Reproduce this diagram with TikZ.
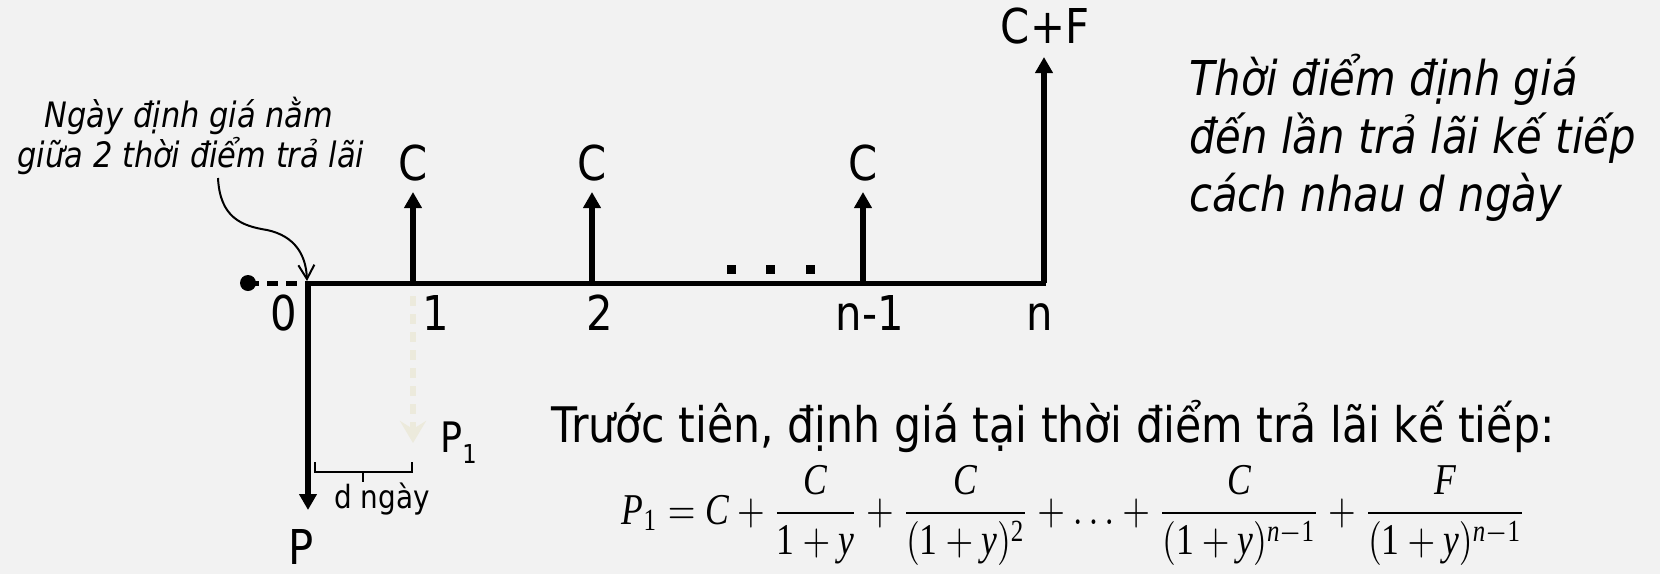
\documentclass[tikz,border=0pt]{standalone}
\usepackage[no-math]{fontspec}
\usepackage{amsmath}
\usepackage{graphicx}
\setmainfont{DejaVu Sans}[FakeStretch=0.87]
\newfontfamily\tms{Liberation Serif}
\usetikzlibrary{arrows.meta}
\definecolor{bg}{RGB}{242,242,242}
\definecolor{cream}{RGB}{236,234,220}
\newcommand\tv[1]{\text{\tms\itshape #1}}
\newcommand\tn[1]{\text{\tms #1}}
\tikzset{
  lbl/.style={font=\fontsize{24}{29}\selectfont, inner sep=0pt, anchor=base},
  note/.style={font=\fontsize{17.5}{21}\selectfont\itshape, inner sep=0pt, anchor=base},
  rnote/.style={font=\fontsize{24}{29}\selectfont\itshape, inner sep=0pt, anchor=base west},
  axisline/.style={line width=2.5pt},
  flow/.style={line width=3pt, -{Triangle[length=8pt,width=8.5pt]}},
  pvdash/.style={line width=3pt, cream, dash pattern=on 5pt off 4pt, -{Stealth[length=11pt,width=13pt,inset=4pt]}},
  callout/.style={line width=1pt, -{Straight Barb[length=7pt,width=8pt]}},
  thin/.style={line width=0.8pt}
}
\begin{document}
\begin{tikzpicture}[x=0.5pt,y=-0.5pt]
\useasboundingbox (0,0) rectangle (1660,574);
\fill[bg] (0,0) rectangle (1660,574);
% time points
\coordinate (s) at (248,283);
\coordinate (t0) at (308,283);
\coordinate (t1) at (413,283);
\coordinate (t2) at (592,283);
\coordinate (tn1) at (863,283);
\coordinate (tn) at (1044,283);
\coordinate (tend) at (1046,283);
\coordinate (h1) at (413,192);
\coordinate (h2) at (592,192);
\coordinate (hn1) at (863,192);
\coordinate (hn) at (1044,57);
\coordinate (pp) at (308,510);
\coordinate (p1s) at (413,296);
\coordinate (p1e) at (413,443);
% dashed lead-in and dot
\fill (s) circle (4pt);
\draw[axisline, dash pattern=on 5.5pt off 4pt] (s) -- (t0);
% axis
\draw[axisline] (t0) -- (tend);
% cash flows
\draw[flow] (t1) -- (h1);
\draw[flow] (t2) -- (h2);
\draw[flow] (tn1) -- (hn1);
\draw[flow] (tn) -- (hn);
\draw[flow] (t0) -- (pp);
\draw[pvdash] (p1s) -- (p1e);
% dots
\foreach \x in {731,770,810} \fill (\x-4.5,264.5) rectangle (\x+4.5,273.5);
% labels
\node[lbl] (c1) at (413,180) {C};
\node[lbl] (c2) at (592,180) {C};
\node[lbl] (cn1) at (863,180) {C};
\node[lbl] (cf) at (1045,43) {C+F};
\node[lbl] (l0) at (284,330) {0};
\node[lbl] (l1) at (436,330) {1};
\node[lbl] (l2) at (600,330) {2};
\node[lbl] (ln1) at (870,330) {n-1};
\node[lbl] (ln) at (1040,330) {n};
\node[lbl] (lp) at (301,564) {P};
\node[lbl, anchor=base west, font=\fontsize{21}{25}\selectfont] (lp1) at (440,452) {P\raisebox{-5.5pt}{\fontsize{13}{15}\selectfont 1}};
% brace
\draw[thin] (315,462) -- (315,472) -- (412,472) -- (412,462);
\draw[thin] (363,472) -- (363,482);
\node[lbl, font=\fontsize{16}{19}\selectfont] (dn) at (382,508) {d ngày};
% callout
\node[note] (n1) at (189,127) {Ngày định giá nằm};
\node[note] (n2) at (191,167) {giữa 2 thời điểm trả lãi};
\coordinate (cs) at (218,178);
\coordinate (ce) at (307,281);
\draw[callout] (cs) .. controls (220,218) and (242,226) .. (267,230) .. controls (295,236) and (306,255) .. (ce);
% right note
\node[rnote] (r1) at (1189,95) {Thời điểm định giá};
\node[rnote] (r2) at (1189,153) {đến lần trả lãi kế tiếp};
\node[rnote] (r3) at (1189,211) {cách nhau d ngày};
% bottom text and formula
\node[lbl, anchor=base west, font=\fontsize{24.5}{29}\selectfont] (bt) at (551,442) {Trước tiên, định giá tại thời điểm trả lãi kế tiếp:};
\node[inner sep=0pt, anchor=north] (eq) at (1074,465) {\resizebox*{452pt}{50pt}{$\displaystyle \tv{P}_{\tn{1}} = \tv{C} + \frac{\tv{C}}{\tn{1}+\tv{y}} + \frac{\tv{C}}{(\tn{1}+\tv{y})^{\tn{2}}} + \ldots + \frac{\tv{C}}{(\tn{1}+\tv{y})^{\tv{n}-\tn{1}}} + \frac{\tv{F}}{(\tn{1}+\tv{y})^{\tv{n}-\tn{1}}}$}};
\end{tikzpicture}
\end{document}
